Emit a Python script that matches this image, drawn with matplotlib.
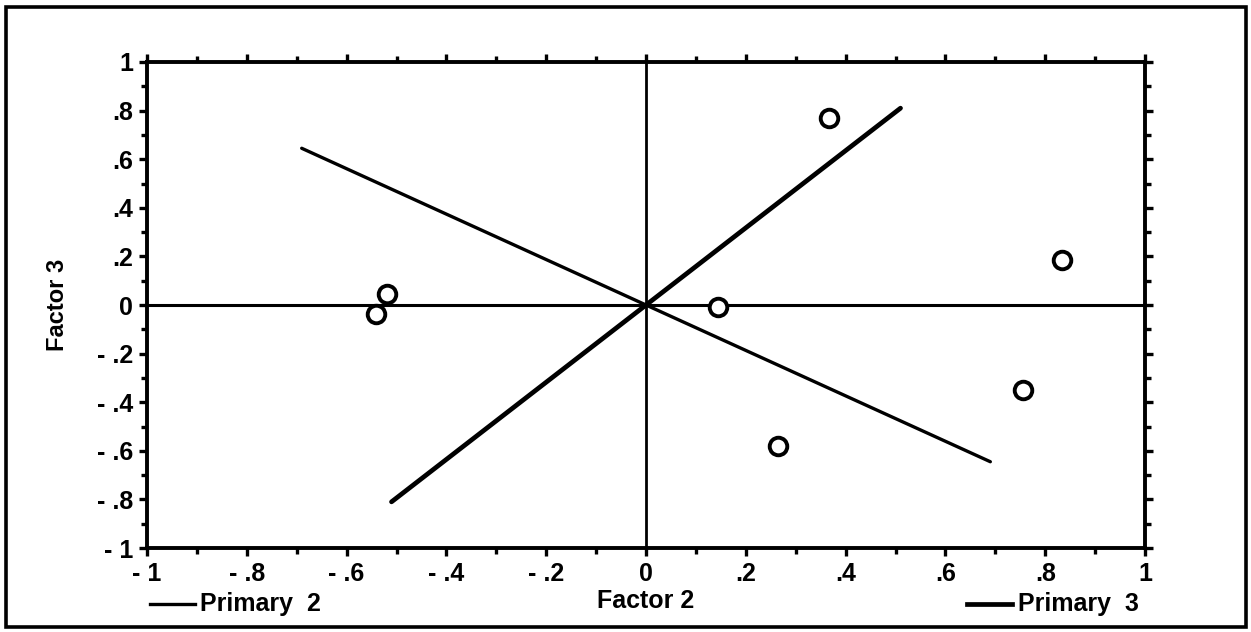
import numpy as np
import matplotlib
matplotlib.use('Agg')
import matplotlib.pyplot as plt
from matplotlib.patches import Rectangle
from matplotlib.lines import Line2D

plt.rcParams['font.family'] = ['Liberation Sans', 'DejaVu Sans']

# loadings (factor 2, factor 3)
pts_x = [-0.519, -0.541, 0.144, 0.265, 0.367, 0.834, 0.755]
pts_y = [0.045, -0.037, -0.008, -0.58, 0.77, 0.185, -0.35]

# primary axes end points
prim2_x = [-0.69, 0.69]
prim2_y = [0.645, -0.645]
prim3_x = [-0.51, 0.51]
prim3_y = [-0.81, 0.81]

ticks = [-1, -0.8, -0.6, -0.4, -0.2, 0, 0.2, 0.4, 0.6, 0.8, 1]
tick_labels = ['- 1', '- .8', '- .6', '- .4', '- .2', '0', '.2', '.4', '.6', '.8', '1']
ytick_labels = ['- 1', '- .8', '- .6', '- .4', '- .2', '0', '.2', '.4', '.6', '.8', '1']

fig = plt.figure(figsize=(12.51, 6.32), dpi=100)
ax = fig.add_axes([0.1175, 0.1329, 0.7978, 0.769])

ax.set_xlim(-1, 1)
ax.set_ylim(-1, 1)

# zero reference lines
ax.axhline(0, color='black', lw=2.2, zorder=1)
ax.axvline(0, color='black', lw=2.0, zorder=1)

ax.plot(prim2_x, prim2_y, color='black', lw=2.4, solid_capstyle='round')
ax.plot(prim3_x, prim3_y, color='black', lw=3.4, solid_capstyle='round')
ax.scatter(pts_x, pts_y, s=160, facecolors='white', edgecolors='black',
           linewidths=2.8, zorder=3)

for s in ax.spines.values():
    s.set_linewidth(2.8)

ax.set_xticks(ticks)
ax.set_xticklabels(tick_labels)
ax.set_yticks(ticks)
ax.set_yticklabels(ytick_labels)
ax.set_xticks(np.arange(-0.9, 1.0, 0.2), minor=True)
ax.set_yticks(np.arange(-0.9, 1.0, 0.2), minor=True)
ax.tick_params(which='major', direction='out', length=6, width=2.4,
               labelsize=18, top=True, right=True, pad=4)
ax.tick_params(which='minor', direction='out', length=4, width=2.4,
               top=True, right=True)
for lab in ax.get_xticklabels() + ax.get_yticklabels():
    lab.set_fontweight('bold')

ax.set_xlabel('Factor 2', fontsize=18, fontweight='bold', labelpad=2)
ax.set_ylabel('Factor 3', fontsize=17, fontweight='bold', labelpad=20)

# legend entries along the bottom
fig.add_artist(Line2D([150 / 1251, 195 / 1251], [1 - 604 / 632] * 2,
                      color='black', lw=2.4))
fig.text(200 / 1251, 1 - 604 / 632, 'Primary  2', fontsize=18,
         fontweight='bold', va='center', ha='left')
fig.add_artist(Line2D([967 / 1251, 1012 / 1251], [1 - 604 / 632] * 2,
                      color='black', lw=3.4))
fig.text(1018 / 1251, 1 - 604 / 632, 'Primary  3', fontsize=18,
         fontweight='bold', va='center', ha='left')

# outer frame
fig.patches.append(Rectangle((6 / 1251, 5 / 632), 1240 / 1251, 620 / 632,
                             transform=fig.transFigure, fill=False,
                             edgecolor='black', lw=2.6))

plt.savefig('out.png', dpi=100)
